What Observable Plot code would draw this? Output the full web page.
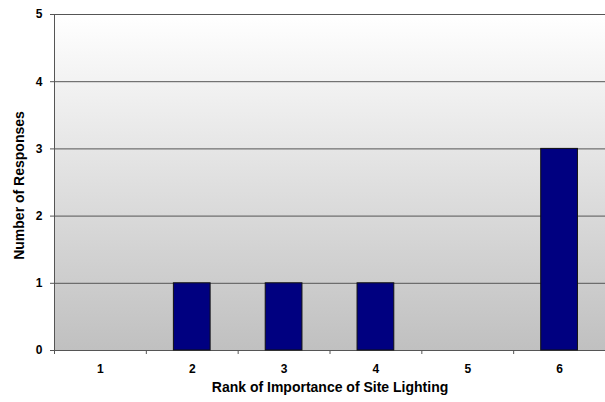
<!DOCTYPE html>
<html><head><meta charset="utf-8">
<script src="https://cdn.jsdelivr.net/npm/d3@7"></script>
<script src="https://cdn.jsdelivr.net/npm/@observablehq/plot@0.6"></script>
<style>body{margin:0;background:#fff;} svg{display:block;}</style>
</head><body><div id="chart"></div>
<script>
const ranks = [1, 2, 3, 4, 5, 6];
const responses = [0, 1, 1, 1, 0, 3];
const yTicks = [0, 1, 2, 3, 4, 5];
const xBoundaries = [0.5, 1.5, 2.5, 3.5, 4.5, 5.5, 6.5];
const xLabel = "Rank of Importance of Site Lighting";
const yLabel = "Number of Responses";

const data = ranks.map((r, i) => ({rank: r, n: responses[i]}));
const halfBar = 0.2;

const chart = Plot.plot({
  width: 605, height: 402,
  marginLeft: 54, marginRight: 0, marginTop: 14, marginBottom: 52,
  style: {fontFamily: "'Liberation Sans', Arial, sans-serif", fontSize: "12px", fontWeight: "bold", color: "#000", background: "#fff"},
  x: {type: "linear", domain: [0.5, 6.5]},
  y: {domain: [0, 5]},
  marks: [
    () => {
      const defs = d3.create("svg:defs");
      const g = defs.append("linearGradient").attr("id", "bg").attr("x1", 0).attr("y1", 0).attr("x2", 0).attr("y2", 1);
      g.append("stop").attr("offset", "0%").attr("stop-color", "#ffffff");
      g.append("stop").attr("offset", "100%").attr("stop-color", "#c0c0c0");
      return defs.node();
    },
    Plot.frame({fill: "url(#bg)", stroke: "none"}),
    Plot.ruleY(yTicks, {stroke: "#555", strokeWidth: 1}),
    Plot.rectY(data.filter(d => d.n > 0), {x1: d => d.rank - halfBar, x2: d => d.rank + halfBar, y: "n", fill: "#000080", stroke: "#111", strokeWidth: 1}),
    Plot.ruleX([0.5], {stroke: "#555", strokeWidth: 1}),
    Plot.axisY({ticks: yTicks, tickSize: 4, tickPadding: 8, tickFormat: d => d, label: null, stroke: "#555", fontSize: 12}),
    Plot.axisX({ticks: xBoundaries, tickSize: 4, tickFormat: () => "", label: null, stroke: "#555"}),
    Plot.axisX({ticks: ranks, tickSize: 0, tickPadding: 14, tickFormat: d => d, label: null, fontSize: 12}),
    Plot.text([xLabel], {frameAnchor: "bottom", dy: 41, fontSize: 14, fontWeight: "bold", fill: "#000"}),
    Plot.text([yLabel], {frameAnchor: "left", dx: -35, dy: 3, rotate: -90, textAnchor: "middle", fontSize: 14, fontWeight: "bold", fill: "#000"})
  ]
});
document.getElementById("chart").appendChild(chart);
</script>
</body></html>
